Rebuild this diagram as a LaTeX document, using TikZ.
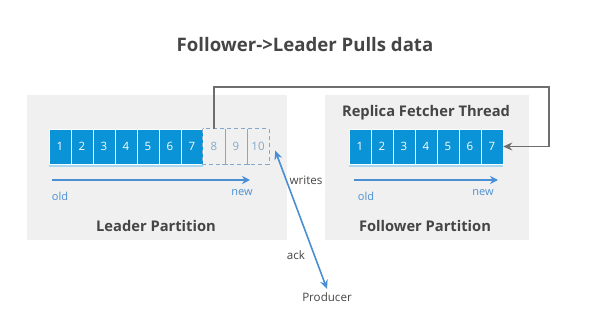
\documentclass[tikz,border=0pt]{standalone}
\usepackage{fontspec}
\setmainfont{Open Sans}
\usepackage{tikz}
\usetikzlibrary{arrows.meta}

\definecolor{cellblue}{HTML}{0A93D6}
\definecolor{stripblue}{HTML}{A8D8F0}
\definecolor{arrowblue}{HTML}{4A8FD4}
\definecolor{panelgray}{HTML}{F0F0F0}
\definecolor{textgray}{HTML}{454545}
\definecolor{linkgray}{HTML}{6E6E6E}
\definecolor{dashblue}{HTML}{86A8C8}

\tikzset{
  cell/.style={draw=white, fill=cellblue, text=white, minimum width=22pt,
    minimum height=35pt, inner sep=0pt, font=\fontsize{11.5}{12}\selectfont},
  emptycell/.style={minimum width=22pt, minimum height=35pt, inner sep=0pt,
    text=dashblue, font=\fontsize{11.5}{12}\selectfont},
  heading/.style={text=textgray, font=\bfseries\fontsize{14.7}{16}\selectfont},
  side/.style={text=arrowblue, font=\fontsize{11}{12}\selectfont},
  small/.style={text=textgray, font=\fontsize{11.6}{13}\selectfont},
}

\begin{document}
\begin{tikzpicture}[x=1pt, y=-1pt]
    \useasboundingbox[fill=white] (0,0) rectangle (591,316);

    \node[text=textgray, font=\bfseries\fontsize{18.6}{21}\selectfont] (title) at (305,45) {Follower->Leader Pulls data};

    % panels
    \fill[panelgray] (27,95) rectangle (287,240);
    \fill[panelgray] (325,95) rectangle (529,240);

    % leader log
    \fill[stripblue] (49,164) rectangle (203,167);
    \foreach \i in {1,...,7}
        \node[cell] (L\i) at ({60+22*(\i-1)},146.5) {\i};
    \foreach \i in {8,9,10}
        \node[emptycell] (L\i) at ({60+22*(\i-1)},146.5) {\i};
    \draw[dashblue, line width=1.2pt, dash pattern=on 4pt off 3pt] (L8.north west) rectangle (L10.south east);
    \foreach \i in {8,9} {
        \draw[dashblue, line width=1.2pt] (L\i.north east) -- (L\i.south east);
        \draw[dashblue, line width=1.2pt] ([xshift=-3pt]L\i.south east) -- ([xshift=3pt]L\i.south east);
    }

    % follower log
    \fill[stripblue] (349,164) rectangle (503,167);
    \foreach \i in {1,...,7}
        \node[cell] (F\i) at ({360+22*(\i-1)},146.5) {\i};

    % old -> new
    \coordinate (lold) at (52,180);
    \coordinate (lnew) at (250,180);
    \coordinate (fold) at (354,180);
    \coordinate (fnew) at (498,180);
    \draw[arrowblue, line width=1.5pt, -{Stealth[length=8pt,width=8pt]}] (lold) -- (lnew);
    \draw[arrowblue, line width=1.5pt, -{Stealth[length=8pt,width=8pt]}] (fold) -- (fnew);
    \node[side] (lo) at (60,196) {old};
    \node[side] (ln) at (242,193) {new};
    \node[side] (fo) at (366,196) {old};
    \node[side] (fn) at (483,193) {new};

    \node[heading] (leader) at (156,226) {Leader Partition};
    \node[heading] (follower) at (425,226) {Follower Partition};
    \node[heading] (fetcher) at (426,113) {Replica Fetcher Thread};

    % fetch path
    \coordinate (up) at (L8.north |- 0,87);
    \coordinate (corner) at (549,87);
    \draw[linkgray, line width=1.4pt, -{Stealth[length=9pt,width=8pt]}]
        (L8.north) -- (up) -- (corner) -- (corner |- F7.east) -- (F7.east);

    % producer
    \node[small] (producer) at (327,297) {Producer};
    \coordinate (wr) at ([xshift=6pt,yshift=-4pt]L10.east);
    \draw[arrowblue, line width=1.6pt, {Stealth[length=9pt,width=8pt]}-{Stealth[length=9pt,width=8pt]}]
        (wr) -- (producer.north);
    \node[small] (writes) at (306,180) {writes};
    \node[small] (ack) at (296,255) {ack};
\end{tikzpicture}
\end{document}
